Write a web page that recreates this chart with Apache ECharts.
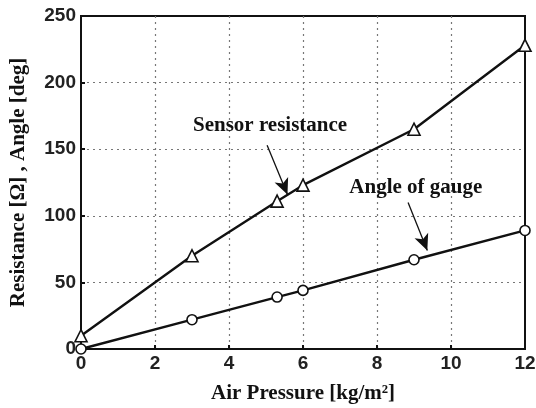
<!DOCTYPE html>
<html>
<head>
<meta charset="utf-8">
<script src="https://cdn.jsdelivr.net/npm/echarts@6/dist/echarts.min.js"></script>
<style>
  html, body { margin: 0; padding: 0; background: #fff; }
  #chart { width: 536px; height: 408px; }
</style>
</head>
<body>
<div id="chart"></div>
<script>
// air pressure [kg/m^2]
var pressure = [0, 3, 5.3, 6, 9, 12];
// sensor resistance [ohm]
var resistance = [10, 70, 111, 123, 165, 228];
// angle of gauge [deg]
var angle = [0, 22, 39, 44, 67, 89];

var xTicks = [0, 2, 4, 6, 8, 10, 12];
var yTicks = [0, 50, 100, 150, 200, 250];

// annotation text and arrows, in data coordinates
var sensorLabel = { text: "Sensor resistance", at: [5.11, 168] };
var sensorArrow = [[5.03, 153], [5.58, 116]];
var angleLabel = { text: "Angle of gauge", at: [9.05, 121] };
var angleArrow = [[8.84, 110], [9.36, 74]];

function pairs(xs, ys) {
  return xs.map(function (x, i) { return [x, ys[i]]; });
}

var tickFont = {
  fontFamily: "Liberation Sans Narrow, Arial Narrow, Liberation Sans",
  fontWeight: "bold",
  fontSize: 19,
  color: "#222"
};
var serif = "Liberation Serif, Times New Roman, serif";

function annotation(lbl, arrow) {
  return {
    markPoint: {
      symbol: "circle",
      symbolSize: 0,
      silent: true,
      label: {
        show: true,
        position: "inside",
        formatter: lbl.text,
        fontFamily: serif,
        fontWeight: "bold",
        fontSize: 21,
        color: "#111"
      },
      data: [{ coord: lbl.at }]
    },
    markLine: {
      silent: true,
      symbol: ["none", "arrow"],
      symbolSize: [11, 16],
      label: { show: false },
      lineStyle: { color: "#111", width: 1.3, type: "solid" },
      data: [[{ coord: arrow[0] }, { coord: arrow[1] }]]
    }
  };
}

var chart = echarts.init(document.getElementById("chart"));

var s1 = {
  name: "Sensor resistance",
  type: "line",
  data: pairs(pressure, resistance),
  symbol: "triangle",
  symbolSize: 12,
  showAllSymbol: true,
  itemStyle: { color: "#fff", borderColor: "#111", borderWidth: 1.6 },
  lineStyle: { color: "#111", width: 2.4 },
  z: 3
};
Object.assign(s1, annotation(sensorLabel, sensorArrow));

var s2 = {
  name: "Angle of gauge",
  type: "line",
  data: pairs(pressure, angle),
  symbol: "circle",
  symbolSize: 10,
  showAllSymbol: true,
  itemStyle: { color: "#fff", borderColor: "#111", borderWidth: 1.6 },
  lineStyle: { color: "#111", width: 2.4 },
  z: 3
};
Object.assign(s2, annotation(angleLabel, angleArrow));

var split = {
  show: true,
  showMinLine: false,
  showMaxLine: false,
  lineStyle: { color: "#777", type: [2, 4], width: 1.2 }
};

chart.setOption({
  animation: false,
  backgroundColor: "#fff",
  grid: {
    left: 81,
    right: 11,
    top: 16,
    bottom: 59,
    outerBoundsMode: "none",
    containLabel: false,
    show: true,
    borderColor: "#111",
    borderWidth: 2
  },
  xAxis: {
    type: "value",
    min: xTicks[0],
    max: xTicks[xTicks.length - 1],
    interval: 2,
    name: "Air Pressure [kg/m²]",
    nameLocation: "middle",
    nameGap: 34,
    nameTextStyle: { fontFamily: serif, fontWeight: "bold", fontSize: 21, color: "#111" },
    axisLine: { show: true, onZero: false, lineStyle: { color: "#111", width: 2 } },
    axisTick: { show: true, inside: true, length: 4, lineStyle: { color: "#111", width: 2 } },
    axisLabel: Object.assign({ margin: 5 }, tickFont),
    splitLine: split
  },
  yAxis: {
    type: "value",
    min: yTicks[0],
    max: yTicks[yTicks.length - 1],
    interval: 50,
    name: "Resistance [Ω] , Angle [deg]",
    nameLocation: "middle",
    nameGap: 52,
    nameRotate: 90,
    nameTextStyle: { fontFamily: serif, fontWeight: "bold", fontSize: 21, color: "#111" },
    axisLine: { show: true, onZero: false, lineStyle: { color: "#111", width: 2 } },
    axisTick: { show: true, inside: true, length: 4, lineStyle: { color: "#111", width: 2 } },
    axisLabel: Object.assign({ margin: 5 }, tickFont),
    splitLine: split
  },
  series: [s1, s2]
});
</script>
</body>
</html>
